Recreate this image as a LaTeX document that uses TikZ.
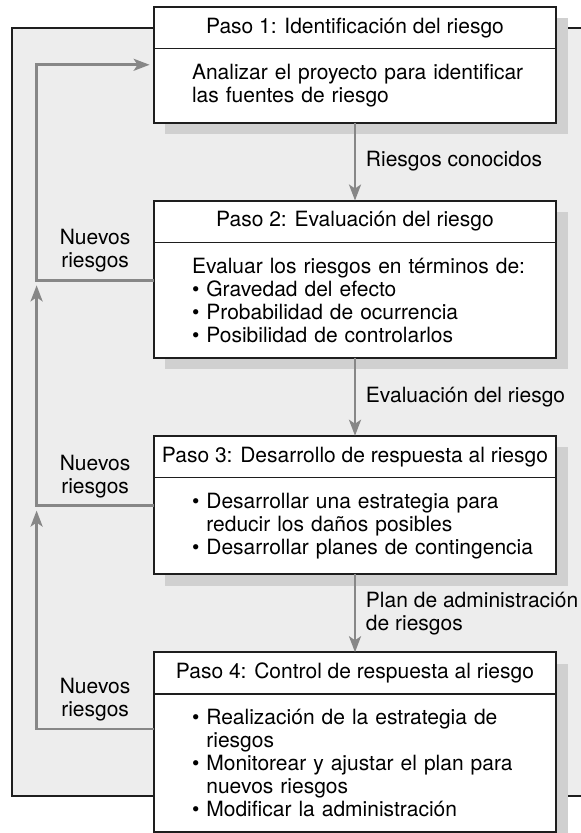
\documentclass[tikz,border=0pt]{standalone}
\usepackage{fontspec}
\setmainfont{TeX Gyre Heros}
\usetikzlibrary{positioning,arrows.meta,backgrounds}
\definecolor{ink}{HTML}{1E1E1E}
\definecolor{flow}{HTML}{878787}
\definecolor{panel}{HTML}{EDEDED}
\definecolor{shadowgray}{HTML}{D0D0D0}
\newcommand\bul{\textbullet\ }
\newcommand\indt{\leavevmode\hphantom{\textbullet\ }}

\begin{document}
\begin{tikzpicture}[font=\fontsize{10.5}{11.5}\selectfont,node distance=39pt,
head/.style={fill=white,minimum width=201pt,minimum height=20.5pt,inner sep=0pt},
body/.style={fill=white,text width=183pt,inner xsep=9pt,inner ysep=7.5pt,align=left,execute at begin node=\setlength\leftskip{10pt}},
boxline/.style={draw=ink,line width=1pt},
divider/.style={draw=ink,line width=0.6pt},
arr/.style={-{Stealth[length=8pt,width=6pt,inset=2pt]},line width=1.3pt,draw=flow},
lbl/.style={align=left},
fblbl/.style={align=center}]
\useasboundingbox (0,0) rectangle (290pt,-416.5pt);
% the four steps
\node[head,anchor=north] (h1) at (177.5pt,-3.5pt) {Paso 1: Identificación del riesgo};
\node[body,below=0pt of h1] (b1) {Analizar el proyecto para identificar\\las fuentes de riesgo};
\node[head,below=of b1] (h2) {Paso 2: Evaluación del riesgo};
\node[body,below=0pt of h2] (b2) {Evaluar los riesgos en términos de:\\\bul Gravedad del efecto\\\bul Probabilidad de ocurrencia\\\bul Posibilidad de controlarlos};
\node[head,below=of b2] (h3) {Paso 3: Desarrollo de respuesta al riesgo};
\node[body,below=0pt of h3] (b3) {\bul Desarrollar una estrategia para\\\indt reducir los daños posibles\\\bul Desarrollar planes de contingencia};
\node[head,below=of b3] (h4) {Paso 4: Control de respuesta al riesgo};
\node[body,below=0pt of h4] (b4) {\bul Realización de la estrategia de\\\indt riesgos\\\bul Monitorear y ajustar el plan para\\\indt nuevos riesgos\\\bul Modificar la administración};
\foreach \i in {1,...,4} {
  \draw[divider] (h\i.south west) -- (h\i.south east);
  \draw[boxline] (h\i.north west) rectangle (b\i.south east);
}
% forward flow
\draw[arr] (b1.south) -- (h2.north) node[lbl,midway,right=1.5pt] {Riesgos conocidos};
\draw[arr] (b2.south) -- (h3.north) node[lbl,midway,right=1.5pt] {Evaluación del riesgo};
\draw[arr] (b3.south) -- (h4.north) node[lbl,midway,right=1.5pt] {Plan de administración\\de riesgos};
% feedback rail
\coordinate (rail) at ([xshift=-58.5pt]b1.west);
\coordinate (in1) at ([yshift=-8pt]b1.north west);
\coordinate (out2) at ([yshift=-19pt]b2.north west);
\coordinate (out3) at ([yshift=-14pt]b3.north west);
\coordinate (out4) at ([yshift=-17.5pt]b4.north west);
\coordinate (turn2) at (out2 -| rail);
\coordinate (turn3) at (out3 -| rail);
\coordinate (turn4) at (out4 -| rail);
\draw[arr] (out2) -- (turn2) node[fblbl,midway,above] {Nuevos\\riesgos} |- ([xshift=-2pt]in1);
\draw[arr] (out3) -- (turn3) node[fblbl,midway,above] {Nuevos\\riesgos} -- ([yshift=-2.5pt]turn2);
\draw[arr] (out4) -- (turn4) node[fblbl,midway,above] {Nuevos\\riesgos} -- ([yshift=-2.5pt]turn3);
\begin{scope}[on background layer]
\draw[fill=panel,draw=ink,line width=0.9pt] (6pt,-14pt) rectangle (300pt,-398pt);
\foreach \i in {1,...,4}
  \fill[fill=shadowgray] ([shift={(5.75pt,-5.75pt)}]h\i.north west) rectangle ([shift={(5.75pt,-5.75pt)}]b\i.south east);
\end{scope}
\end{tikzpicture}
\end{document}
